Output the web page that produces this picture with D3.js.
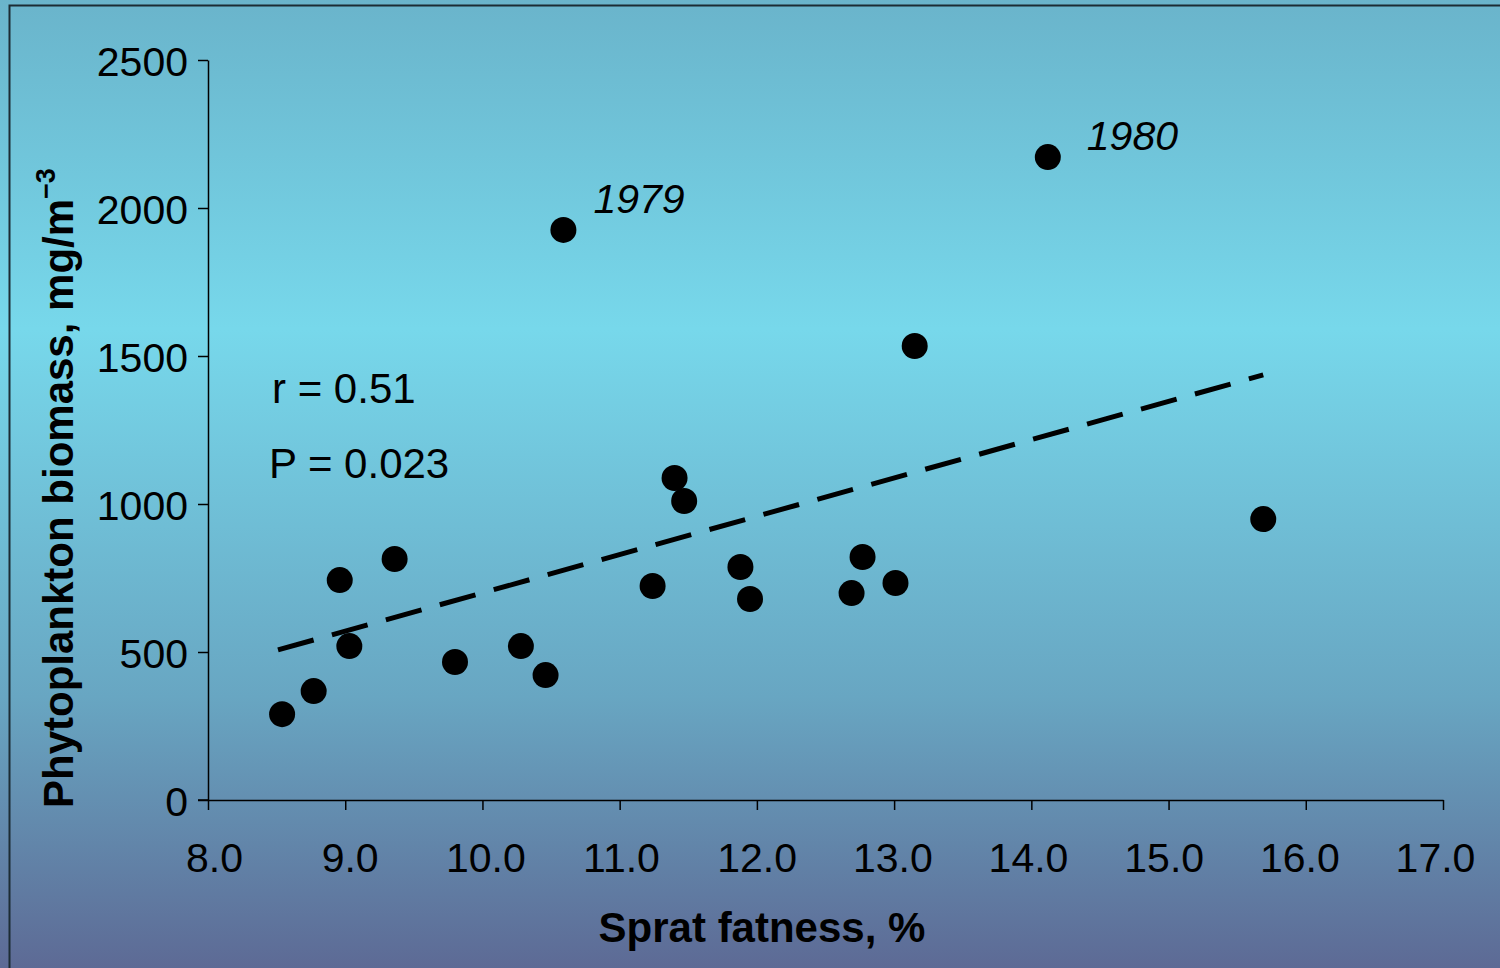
<!DOCTYPE html>
<html>
<head>
<meta charset="utf-8">
<style>
  body { margin: 0; overflow: hidden; }
  text { font-family: "Liberation Sans", Arial, sans-serif; fill: #000; }
</style>
</head>
<body>
<script src="https://d3js.org/d3.v7.min.js"></script>
<script>
// data
var fatness = [8.54, 8.77, 8.96, 9.03, 9.36, 9.80, 10.28, 10.46, 10.59, 11.24,
               11.40, 11.47, 11.88, 11.95, 12.69, 12.77, 13.01, 13.15, 14.12, 15.69];
var biomass = [290, 368, 743, 520, 814, 466, 520, 422, 1926, 723,
               1088, 1010, 787, 679, 699, 821, 733, 1534, 2172, 949];
var trendX = [8.51, 15.69];
var trendY = [507, 1436];
var xTicks = [8, 9, 10, 11, 12, 13, 14, 15, 16, 17];
var yTicks = [0, 500, 1000, 1500, 2000, 2500];
var years = ["1979", "1980"];
var yearX = [10.59, 14.12];
var yearY = [1926, 2172];

var width = 1500, height = 968;

var svg = d3.select("body").append("svg")
    .attr("width", width)
    .attr("height", height);

// background gradient
var grad = svg.append("defs").append("linearGradient")
    .attr("id", "bg").attr("x1", 0).attr("y1", 0).attr("x2", 0).attr("y2", 1);
grad.append("stop").attr("offset", "0%").attr("stop-color", "#6ab4cb");
grad.append("stop").attr("offset", "34%").attr("stop-color", "#77d8eb");
grad.append("stop").attr("offset", "72%").attr("stop-color", "#68a6c2");
grad.append("stop").attr("offset", "100%").attr("stop-color", "#5d6a95");

svg.append("rect").attr("width", width).attr("height", height).attr("fill", "url(#bg)");
// frame
svg.append("rect").attr("x", 9.5).attr("y", 5.5).attr("width", width + 20).attr("height", height + 20)
    .attr("fill", "none").attr("stroke", "#1c2c34").attr("stroke-width", 2);

var x = d3.scaleLinear().domain([8, 17]).range([208, 1443]);
var y = d3.scaleLinear().domain([0, 2500]).range([800, 60]);

// axes
var xAxis = svg.append("g").attr("transform", "translate(0,800)")
    .call(d3.axisBottom(x).tickValues(xTicks).tickSize(10).tickSizeOuter(0).tickFormat(d3.format(".1f")));
var yAxis = svg.append("g").attr("transform", "translate(208,0)")
    .call(d3.axisLeft(y).tickValues(yTicks).tickSize(10).tickSizeOuter(0).tickFormat(d3.format("d")));

[xAxis, yAxis].forEach(function(a) {
  a.select(".domain").attr("stroke", "#000").attr("stroke-width", 1.5);
  a.selectAll(".tick line").attr("stroke", "#000").attr("stroke-width", 1.5);
  a.selectAll(".tick text").style("font-family", "Liberation Sans, Arial, sans-serif")
    .style("font-size", "41px").attr("fill", "#000");
});
// x axis domain extends to the left under the y tick
svg.append("line").attr("x1", 198).attr("x2", 208).attr("y1", 800).attr("y2", 800)
    .attr("stroke", "#000").attr("stroke-width", 1.5);
// labels sit on a slightly tighter spacing than the ticks
xAxis.selectAll(".tick text").attr("y", 0).attr("dy", 72)
    .attr("x", function(d, i) { return 6 - i * 14 / 9; });
yAxis.selectAll(".tick text").attr("x", -20).attr("dy", 15);

// trend line
svg.append("path")
    .datum(d3.zip(trendX, trendY))
    .attr("d", d3.line().x(function(d) { return x(d[0]); }).y(function(d) { return y(d[1]); }))
    .attr("fill", "none").attr("stroke", "#000").attr("stroke-width", 5)
    .attr("stroke-dasharray", "37,19");

// points
svg.append("g").selectAll("circle")
    .data(d3.zip(fatness, biomass))
    .enter().append("circle")
    .attr("cx", function(d) { return x(d[0]); })
    .attr("cy", function(d) { return y(d[1]); })
    .attr("r", 13)
    .attr("fill", "#000");

// year labels
var yearDx = [30, 39], yearDy = [-17, -7];
svg.append("g").selectAll("text")
    .data(years)
    .enter().append("text")
    .attr("x", function(d, i) { return x(yearX[i]) + yearDx[i]; })
    .attr("y", function(d, i) { return y(yearY[i]) + yearDy[i]; })
    .style("font-size", "41px").style("font-style", "italic")
    .text(function(d) { return d; });

// stats
svg.append("text").attr("x", 272).attr("y", 403).style("font-size", "42px").text("r = 0.51");
svg.append("text").attr("x", 269).attr("y", 478).style("font-size", "42px").text("P = 0.023");

// axis titles
svg.append("text").attr("x", 762).attr("y", 942).attr("text-anchor", "middle")
    .style("font-size", "42px").style("font-weight", "bold").text("Sprat fatness, %");

var yt = svg.append("text")
    .attr("transform", "translate(73,808) rotate(-90)")
    .attr("text-anchor", "start")
    .style("font-size", "42px").style("font-weight", "bold");
yt.append("tspan").text("Phytoplankton biomass, mg/m");
yt.append("tspan").attr("dy", -18).style("font-size", "27px").text("\u22123");
</script>
</body>
</html>
